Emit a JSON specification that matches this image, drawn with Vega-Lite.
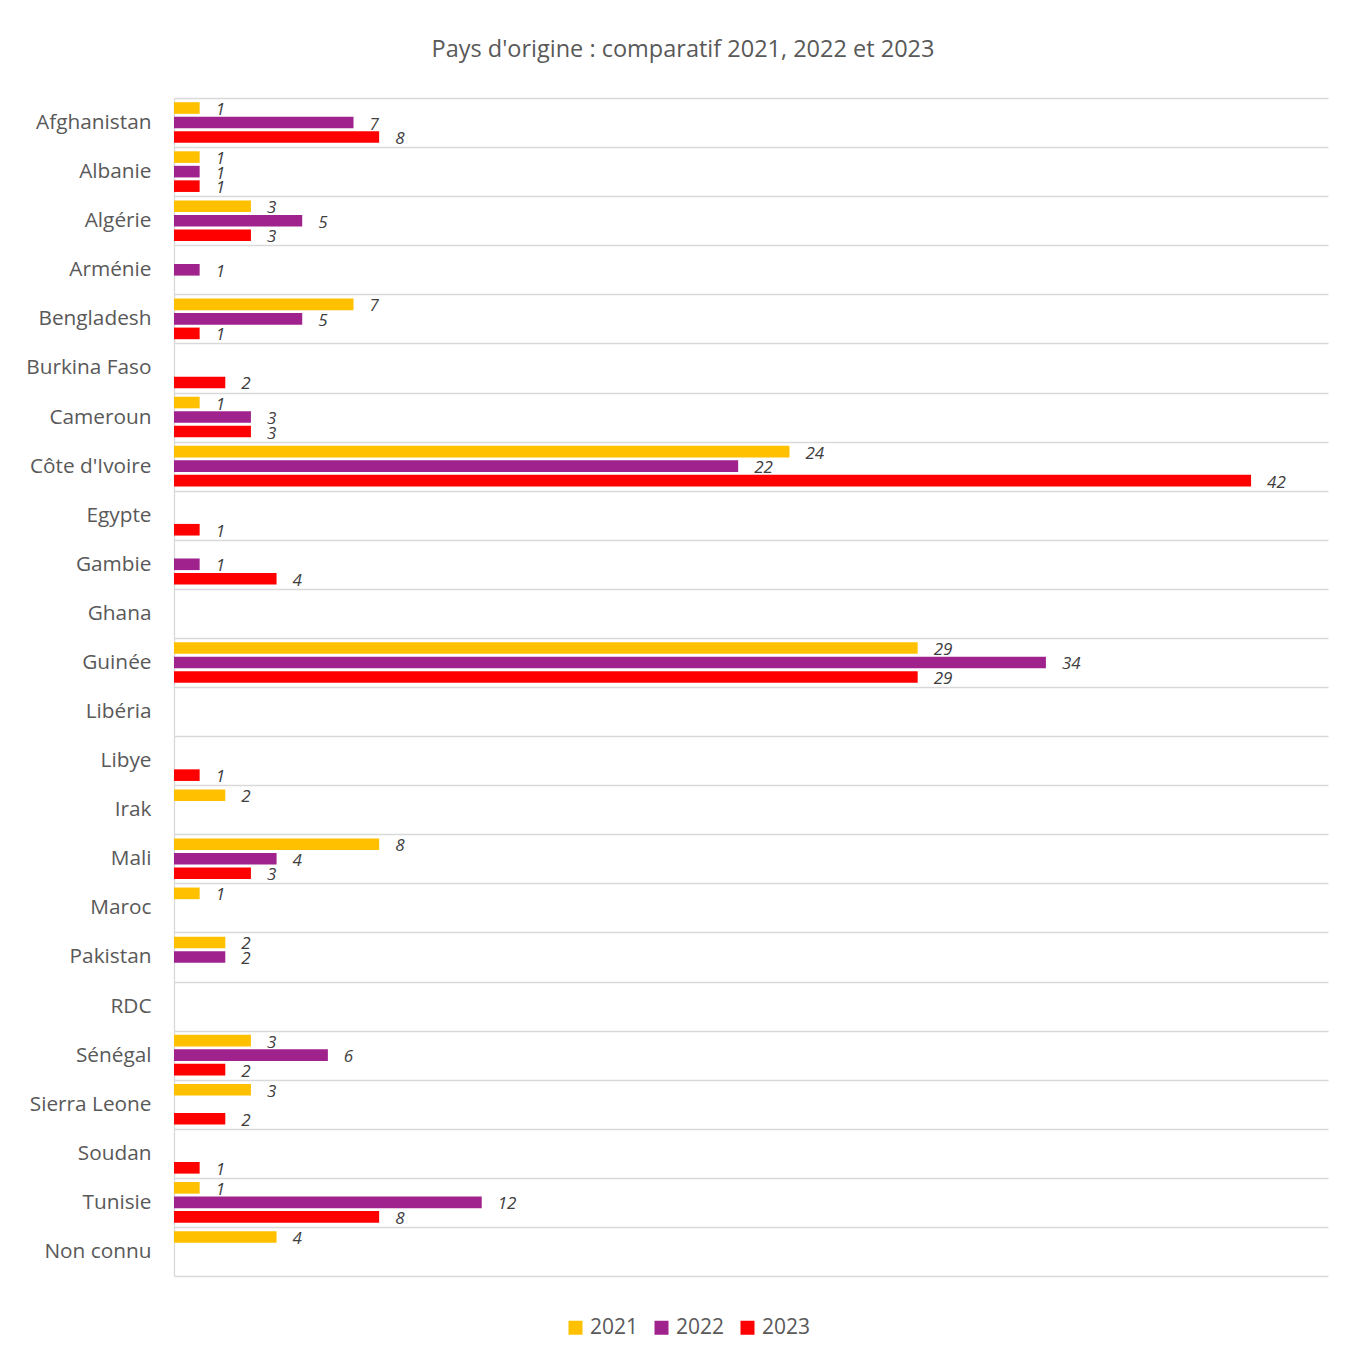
{
  "$schema": "https://vega.github.io/schema/vega-lite/v6.json",
  "width": 1154,
  "height": 1178,
  "autosize": {"type": "none"},
  "padding": {"left": 174, "top": 98, "right": 20, "bottom": 84},
  "background": "white",
  "title": {
    "text": "Pays d'origine : comparatif 2021, 2022 et 2023",
    "font": "Open Sans",
    "fontSize": 23.5,
    "fontWeight": "normal",
    "color": "#595959",
    "anchor": "middle",
    "dx": -68,
    "offset": 26
  },
  "data": {
    "values": [
      {"pays": "Afghanistan", "annee": "2021", "n": 1},
      {"pays": "Afghanistan", "annee": "2022", "n": 7},
      {"pays": "Afghanistan", "annee": "2023", "n": 8},
      {"pays": "Albanie", "annee": "2021", "n": 1},
      {"pays": "Albanie", "annee": "2022", "n": 1},
      {"pays": "Albanie", "annee": "2023", "n": 1},
      {"pays": "Algérie", "annee": "2021", "n": 3},
      {"pays": "Algérie", "annee": "2022", "n": 5},
      {"pays": "Algérie", "annee": "2023", "n": 3},
      {"pays": "Arménie", "annee": "2022", "n": 1},
      {"pays": "Bengladesh", "annee": "2021", "n": 7},
      {"pays": "Bengladesh", "annee": "2022", "n": 5},
      {"pays": "Bengladesh", "annee": "2023", "n": 1},
      {"pays": "Burkina Faso", "annee": "2023", "n": 2},
      {"pays": "Cameroun", "annee": "2021", "n": 1},
      {"pays": "Cameroun", "annee": "2022", "n": 3},
      {"pays": "Cameroun", "annee": "2023", "n": 3},
      {"pays": "Côte d'Ivoire", "annee": "2021", "n": 24},
      {"pays": "Côte d'Ivoire", "annee": "2022", "n": 22},
      {"pays": "Côte d'Ivoire", "annee": "2023", "n": 42},
      {"pays": "Egypte", "annee": "2023", "n": 1},
      {"pays": "Gambie", "annee": "2022", "n": 1},
      {"pays": "Gambie", "annee": "2023", "n": 4},
      {"pays": "Guinée", "annee": "2021", "n": 29},
      {"pays": "Guinée", "annee": "2022", "n": 34},
      {"pays": "Guinée", "annee": "2023", "n": 29},
      {"pays": "Libye", "annee": "2023", "n": 1},
      {"pays": "Irak", "annee": "2021", "n": 2},
      {"pays": "Mali", "annee": "2021", "n": 8},
      {"pays": "Mali", "annee": "2022", "n": 4},
      {"pays": "Mali", "annee": "2023", "n": 3},
      {"pays": "Maroc", "annee": "2021", "n": 1},
      {"pays": "Pakistan", "annee": "2021", "n": 2},
      {"pays": "Pakistan", "annee": "2022", "n": 2},
      {"pays": "Sénégal", "annee": "2021", "n": 3},
      {"pays": "Sénégal", "annee": "2022", "n": 6},
      {"pays": "Sénégal", "annee": "2023", "n": 2},
      {"pays": "Sierra Leone", "annee": "2021", "n": 3},
      {"pays": "Sierra Leone", "annee": "2023", "n": 2},
      {"pays": "Soudan", "annee": "2023", "n": 1},
      {"pays": "Tunisie", "annee": "2021", "n": 1},
      {"pays": "Tunisie", "annee": "2022", "n": 12},
      {"pays": "Tunisie", "annee": "2023", "n": 8},
      {"pays": "Non connu", "annee": "2021", "n": 4}
    ]
  },
  "encoding": {
    "y": {
      "field": "pays",
      "type": "nominal",
      "scale": {
        "domain": ["Afghanistan", "Albanie", "Algérie", "Arménie", "Bengladesh", "Burkina Faso", "Cameroun", "Côte d'Ivoire", "Egypte", "Gambie", "Ghana", "Guinée", "Libéria", "Libye", "Irak", "Mali", "Maroc", "Pakistan", "RDC", "Sénégal", "Sierra Leone", "Soudan", "Tunisie", "Non connu"],
        "paddingInner": 0,
        "paddingOuter": 0
      },
      "axis": {
        "title": null,
        "domain": true,
        "domainColor": "#d9d9d9",
        "domainWidth": 1.3,
        "grid": true,
        "gridColor": "#d9d9d9",
        "gridWidth": 1.3,
        "tickBand": "extent",
        "ticks": false,
        "labelPadding": 23,
        "labelFont": "Open Sans",
        "labelFontSize": 20.8,
        "labelColor": "#595959"
      }
    },
    "yOffset": {
      "field": "annee",
      "type": "nominal",
      "scale": {"domain": ["2021", "2022", "2023"], "paddingInner": 0.2, "paddingOuter": 0.29}
    },
    "x": {
      "field": "n",
      "type": "quantitative",
      "scale": {"domain": [0, 45], "nice": false},
      "axis": null
    }
  },
  "layer": [
    {
      "mark": {"type": "bar"},
      "encoding": {
        "color": {
          "field": "annee",
          "type": "nominal",
          "scale": {"domain": ["2021", "2022", "2023"], "range": ["#FFC000", "#A0228D", "#FF0000"]},
          "legend": {
            "title": null,
            "orient": "none",
            "direction": "horizontal",
            "legendX": 391,
            "legendY": 1219,
            "symbolType": "square",
            "symbolSize": 196,
            "symbolStrokeWidth": 0,
            "symbolOpacity": 1,
            "labelFont": "Open Sans",
            "labelFontSize": 21,
            "labelColor": "#595959",
            "labelOffset": 4,
            "columnPadding": 12
          }
        }
      }
    },
    {
      "mark": {
        "type": "text",
        "align": "left",
        "baseline": "middle",
        "dx": 16,
        "dy": 2,
        "font": "Open Sans",
        "fontSize": 17,
        "fontStyle": "italic",
        "color": "#404040"
      },
      "encoding": {
        "text": {"field": "n", "type": "quantitative"}
      }
    }
  ],
  "config": {
    "view": {"stroke": null}
  }
}
